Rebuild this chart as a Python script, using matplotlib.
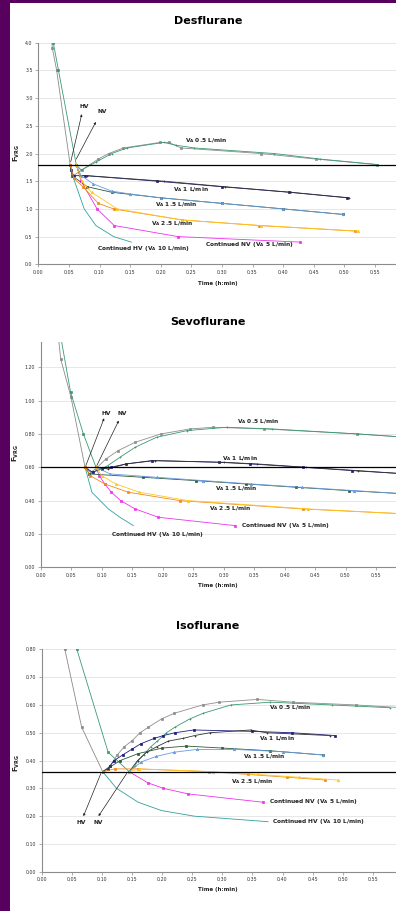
import matplotlib
matplotlib.use("Agg")
import matplotlib.pyplot as plt
from matplotlib.ticker import FuncFormatter, MultipleLocator
from matplotlib.patches import Rectangle

# ---- data: (time in minutes, F_VRG) ----
# Desflurane
des_pre_hv = [(2.0, 4.3), (2.3, 3.9), (3.0, 3.5), (5.2, 1.8)]
des_pre_nv = [(2.3, 4.3), (2.45, 4.0), (3.3, 3.5), (6.2, 1.8)]
des_cont_hv = [(5.2, 1.8), (5.6, 1.6), (7.5, 1.0), (9.4, 0.7), (12.3, 0.5), (15.2, 0.4)]
des_cont_nv = [(6.2, 1.8), (7.0, 1.5), (9.6, 1.0), (12.4, 0.7), (22.8, 0.5), (42.8, 0.4)]
des_va05_hv = [(5.2, 1.8), (5.7, 1.6), (7.1, 1.7), (9.8, 1.9), (11.5, 2.0), (13.9, 2.1), (19.9, 2.2),
               (21.3, 2.2), (23.3, 2.1), (36.3, 2.0), (45.3, 1.9), (55.3, 1.8)]
des_va05_nv = [(6.2, 1.8), (7.0, 1.7), (9.5, 1.85), (12.0, 2.0), (14.5, 2.1), (20.5, 2.2),
               (22.5, 2.15), (25.5, 2.1), (38.5, 2.0), (46.0, 1.9), (55.5, 1.8)]
des_va1_hv = [(5.2, 1.8), (5.3, 1.7), (5.8, 1.6), (7.7, 1.6), (19.4, 1.5), (30.0, 1.4), (41.0, 1.3), (50.5, 1.2)]
des_va1_nv = [(6.2, 1.8), (6.8, 1.6), (8.0, 1.6), (20.5, 1.5), (30.5, 1.4), (41.3, 1.3), (50.8, 1.2)]
des_va15_hv = [(5.2, 1.8), (5.5, 1.6), (8.0, 1.4), (12.0, 1.3), (20.0, 1.2), (30.0, 1.1), (40.0, 1.0), (49.8, 0.9)]
des_va15_nv = [(6.2, 1.8), (7.0, 1.6), (9.0, 1.45), (12.0, 1.32), (15.0, 1.27), (20.0, 1.2), (30.0, 1.1),
               (40.0, 1.0), (49.8, 0.9)]
des_va25_hv = [(5.2, 1.8), (5.8, 1.55), (7.3, 1.4), (9.8, 1.1), (12.3, 1.0), (23.5, 0.8), (36.0, 0.7), (51.7, 0.6)]
des_va25_nv = [(6.2, 1.8), (7.1, 1.5), (8.7, 1.3), (12.9, 1.0), (23.5, 0.8), (36.3, 0.7), (52.3, 0.6)]

# Sevoflurane
sev_pre_hv = [(2.9, 1.38), (3.28, 1.25), (4.97, 1.02), (7.27, 0.60)]
sev_pre_nv = [(3.3, 1.38), (4.9, 1.05), (7.0, 0.80), (9.07, 0.60)]
sev_cont_hv = [(7.27, 0.60), (8.4, 0.45), (11.1, 0.35), (13.0, 0.30), (15.2, 0.25)]
sev_cont_nv = [(9.07, 0.60), (9.6, 0.55), (10.5, 0.50), (11.6, 0.45), (13.1, 0.40), (15.5, 0.35),
               (19.3, 0.30), (31.9, 0.25)]
sev_va05_hv = [(7.27, 0.60), (8.2, 0.57), (9.0, 0.59), (10.7, 0.65), (12.7, 0.70), (15.5, 0.75), (19.7, 0.80),
               (24.5, 0.83), (28.3, 0.84), (36.7, 0.83), (51.9, 0.80), (60.0, 0.78)]
sev_va05_nv = [(9.07, 0.60), (10.0, 0.59), (11.0, 0.61), (13.0, 0.66), (15.5, 0.72), (19.0, 0.78),
               (24.0, 0.82), (30.5, 0.84), (38.0, 0.83), (52.0, 0.80), (60.0, 0.78)]
sev_va1_hv = [(7.27, 0.60), (8.5, 0.57), (10.0, 0.59), (11.5, 0.60), (14.0, 0.62), (18.2, 0.64), (29.2, 0.63),
              (34.4, 0.62), (43.1, 0.60), (51.1, 0.58), (60.0, 0.56)]
sev_va1_nv = [(9.07, 0.60), (11.0, 0.59), (14.0, 0.62), (18.7, 0.64), (30.0, 0.63), (35.5, 0.62),
              (43.5, 0.60), (52.0, 0.58), (60.0, 0.56)]
sev_va15_hv = [(7.27, 0.60), (8.0, 0.56), (16.7, 0.54), (25.4, 0.52), (33.6, 0.50), (41.9, 0.48),
               (50.5, 0.46), (60.0, 0.44)]
sev_va15_nv = [(9.07, 0.60), (11.4, 0.56), (19.0, 0.54), (26.7, 0.52), (34.5, 0.50), (42.8, 0.48),
               (51.4, 0.46), (60.0, 0.44)]
sev_va25_hv = [(7.27, 0.60), (8.1, 0.55), (10.5, 0.50), (14.4, 0.45), (22.8, 0.40), (43.0, 0.35), (60.0, 0.32)]
sev_va25_nv = [(9.07, 0.60), (10.0, 0.55), (12.3, 0.50), (16.2, 0.45), (24.2, 0.40), (43.9, 0.35), (60.0, 0.32)]

# Isoflurane
iso_pre_hv = [(3.8, 0.80), (6.6, 0.52), (10.1, 0.36)]
iso_pre_nv = [(5.8, 0.80), (11.0, 0.43), (14.5, 0.36)]
iso_cont_hv = [(10.1, 0.36), (12.4, 0.30), (16.0, 0.25), (19.9, 0.22), (25.3, 0.20), (37.6, 0.18)]
iso_cont_nv = [(14.5, 0.36), (17.6, 0.32), (20.2, 0.30), (24.3, 0.28), (36.8, 0.25)]
iso_va05_hv = [(10.1, 0.36), (11.3, 0.38), (11.9, 0.40), (12.5, 0.42), (13.7, 0.45), (14.9, 0.47),
               (16.3, 0.50), (17.7, 0.52), (19.9, 0.55), (22.0, 0.57), (26.7, 0.60), (29.5, 0.61),
               (35.8, 0.62), (41.7, 0.61), (52.2, 0.60), (60.0, 0.59)]
iso_va05_nv = [(14.5, 0.36), (15.4, 0.38), (16.0, 0.40), (16.9, 0.42), (18.1, 0.45), (19.2, 0.47),
               (20.7, 0.50), (22.1, 0.52), (24.6, 0.55), (26.8, 0.57), (31.4, 0.60), (38.0, 0.61),
               (48.2, 0.60), (57.8, 0.59)]
iso_va1_hv = [(10.1, 0.36), (10.9, 0.37), (11.3, 0.38), (12.0, 0.40), (13.4, 0.42), (14.9, 0.44), (16.4, 0.46),
              (18.7, 0.48), (20.2, 0.49), (22.1, 0.50), (25.2, 0.51), (35.0, 0.505), (41.6, 0.50), (48.7, 0.49)]
iso_va1_nv = [(14.5, 0.36), (15.9, 0.40), (17.4, 0.43), (19.1, 0.45), (21.0, 0.47), (23.5, 0.48),
              (25.4, 0.49), (27.9, 0.50), (34.7, 0.51), (37.4, 0.50), (47.9, 0.49)]
iso_va15_hv = [(10.1, 0.36), (13.0, 0.40), (16.0, 0.425), (20.0, 0.445), (24.0, 0.452), (30.0, 0.445),
               (38.0, 0.435), (46.8, 0.42)]
iso_va15_nv = [(14.5, 0.36), (16.5, 0.395), (19.0, 0.415), (22.0, 0.43), (25.7, 0.44), (32.0, 0.44),
               (40.0, 0.432), (46.8, 0.42)]
iso_va25_hv = [(10.1, 0.36), (12.1, 0.37), (16.0, 0.37), (27.8, 0.36), (34.3, 0.35), (40.8, 0.34), (47.1, 0.33)]
iso_va25_nv = [(14.5, 0.36), (16.2, 0.37), (28.4, 0.36), (35.9, 0.35), (42.7, 0.34), (49.2, 0.33)]

# target lines (F_VRG at end of hyperventilation)
target = {'Desflurane': 1.8, 'Sevoflurane': 0.6, 'Isoflurane': 0.36}

VA = r'V$_{\mathbf{A}}$'
curve_labels = [VA + ' 0.5 L/min', VA + ' 1 L/min', VA + ' 1.5 L/min', VA + ' 2.5 L/min',
                'Continued NV (' + VA + ' 5 L/min)', 'Continued HV (' + VA + ' 10 L/min)']

# styles: (color, marker)
st = {
    'pre_hv': ('#8a8a8a', 's'), 'pre_nv': ('#3a9a70', 's'),
    'cont_hv': ('#33a0a0', None), 'cont_nv': ('#ee33ee', 's'),
    'va05_hv': ('#8e8e8e', 's'), 'va05_nv': ('#3a9a70', '+'),
    'va1_hv': ('#1c1c80', 's'), 'va1_nv': ('#333333', '+'),
    'va15_hv': ('#2c5a38', 's'), 'va15_nv': ('#6a9ae0', '^'),
    'va25_hv': ('#f08a1c', 's'), 'va25_nv': ('#ffc820', '^'),
}

panels = [
    dict(name='Desflurane', rect=[0.0967, 0.7099, 0.9275, 0.2432], ylim=(0, 4.0), ystep=0.5, yfmt='%.1f',
         title_y=20.7, xlab_y=283, ylab=(17, 153),
         series={'pre_hv': des_pre_hv, 'pre_nv': des_pre_nv, 'cont_hv': des_cont_hv, 'cont_nv': des_cont_nv,
                 'va05_hv': des_va05_hv, 'va05_nv': des_va05_nv, 'va1_hv': des_va1_hv, 'va1_nv': des_va1_nv,
                 'va15_hv': des_va15_hv, 'va15_nv': des_va15_nv, 'va25_hv': des_va25_hv, 'va25_nv': des_va25_nv},
         labpos=[(27.4, 2.23), (24.9, 1.34), (22.5, 1.07), (21.8, 0.74), (34.4, 0.35), (17.1, 0.29)],
         hv=((5.3, 1.85), (7.1, 2.71), (7.5, 2.85)), nv=((6.2, 1.9), (9.4, 2.57), (10.4, 2.76))),
    dict(name='Sevoflurane', rect=[0.1028, 0.3773, 0.9237, 0.247], ylim=(0, 1.35), ystep=0.2, yfmt='%.2f',
         title_y=322, xlab_y=586, ylab=(16, 453),
         series={'pre_hv': sev_pre_hv, 'pre_nv': sev_pre_nv, 'cont_hv': sev_cont_hv, 'cont_nv': sev_cont_nv,
                 'va05_hv': sev_va05_hv, 'va05_nv': sev_va05_nv, 'va1_hv': sev_va1_hv, 'va1_nv': sev_va1_nv,
                 'va15_hv': sev_va15_hv, 'va15_nv': sev_va15_nv, 'va25_hv': sev_va25_hv, 'va25_nv': sev_va25_nv},
         labpos=[(35.6, 0.873), (32.6, 0.65), (32.0, 0.474), (31.1, 0.35), (40.2, 0.248), (19.2, 0.198)],
         hv=((7.4, 0.61), (10.4, 0.894), (10.7, 0.92)), nv=((9.2, 0.61), (12.8, 0.88), (13.4, 0.92))),
    dict(name='Isoflurane', rect=[0.106, 0.0431, 0.9111, 0.2441], ylim=(0, 0.8), ystep=0.1, yfmt='%.2f',
         title_y=626, xlab_y=890, ylab=(16.7, 763),
         series={'pre_hv': iso_pre_hv, 'pre_nv': iso_pre_nv, 'cont_hv': iso_cont_hv, 'cont_nv': iso_cont_nv,
                 'va05_hv': iso_va05_hv, 'va05_nv': iso_va05_nv, 'va1_hv': iso_va1_hv, 'va1_nv': iso_va1_nv,
                 'va15_hv': iso_va15_hv, 'va15_nv': iso_va15_nv, 'va25_hv': iso_va25_hv, 'va25_nv': iso_va25_nv},
         labpos=[(41.2, 0.59), (39.0, 0.478), (36.9, 0.414), (35.0, 0.324), (45.1, 0.254), (45.9, 0.18)],
         hv=((9.8, 0.354), (6.9, 0.20), (6.5, 0.176)), nv=((14.1, 0.354), (9.4, 0.20), (9.3, 0.176))),
]

W, H = 396, 911
fig = plt.figure(figsize=(W / 100, H / 100), dpi=100)
fig.patch.set_facecolor('#58005e')
fig.add_artist(Rectangle((10 / W, 0), 1 - 10 / W, 1 - 3 / H, transform=fig.transFigure,
                         facecolor='white', edgecolor='none', zorder=-10))

time_fmt = FuncFormatter(lambda v, p: '%d:%02d' % (int(v) // 60, int(round(v)) % 60))

for p in panels:
    ax = fig.add_axes(p['rect'])
    ax.set_facecolor('none')
    ax.set_xlim(0, 60)
    ax.set_ylim(*p['ylim'])
    ax.xaxis.set_major_locator(MultipleLocator(5))
    ax.xaxis.set_major_formatter(time_fmt)
    ax.yaxis.set_major_locator(MultipleLocator(p['ystep']))
    ax.yaxis.set_major_formatter(FuncFormatter(lambda v, pos, f=p['yfmt']: f % v))
    ax.grid(axis='y', color='#e3e3e3', lw=0.6)
    ax.set_axisbelow(True)
    for s in ['top', 'right']:
        ax.spines[s].set_visible(False)
    for s in ['left', 'bottom']:
        ax.spines[s].set_color('#8c8c8c')
        ax.spines[s].set_linewidth(0.8)
    ax.tick_params(labelsize=3.4, colors='#8c8c8c', labelcolor='#333333', length=2, width=0.5, pad=2)

    ax.axhline(target[p['name']], color='black', lw=0.9, zorder=5)

    for key, pts in p['series'].items():
        col, mk = st[key]
        ax.plot([a for a, b in pts], [b for a, b in pts], color=col, lw=0.6,
                marker=mk, ms=1.8, mew=0.5, zorder=3)

    for txt, (x, y) in zip(curve_labels, p['labpos']):
        ax.text(x, y, txt, fontsize=4.2, fontweight='bold', ha='center', va='center', color='#222222', zorder=6)

    for lab, (start, tip, tpos) in (('HV', p['hv']), ('NV', p['nv'])):
        ax.annotate('', xy=tip, xytext=start,
                    arrowprops=dict(arrowstyle='-|>', color='#222222', lw=0.5, mutation_scale=3,
                                    shrinkA=0, shrinkB=0), zorder=6)
        ax.text(tpos[0], tpos[1], lab, fontsize=4.2, fontweight='bold', ha='center', va='center',
                color='#222222')

    fig.text(208 / W, 1 - p['title_y'] / H, p['name'], fontsize=8, fontweight='bold',
             ha='center', va='center')
    fig.text(217.5 / W, 1 - p['xlab_y'] / H, 'Time (h:min)', fontsize=4, fontweight='bold',
             ha='center', va='center', color='#222222')
    fig.text(p['ylab'][0] / W, 1 - p['ylab'][1] / H, r'F$_{\mathbf{VRG}}$', fontsize=5, fontweight='bold',
             rotation=90, ha='center', va='center', color='#222222')

fig.savefig('out.png', dpi=100)
